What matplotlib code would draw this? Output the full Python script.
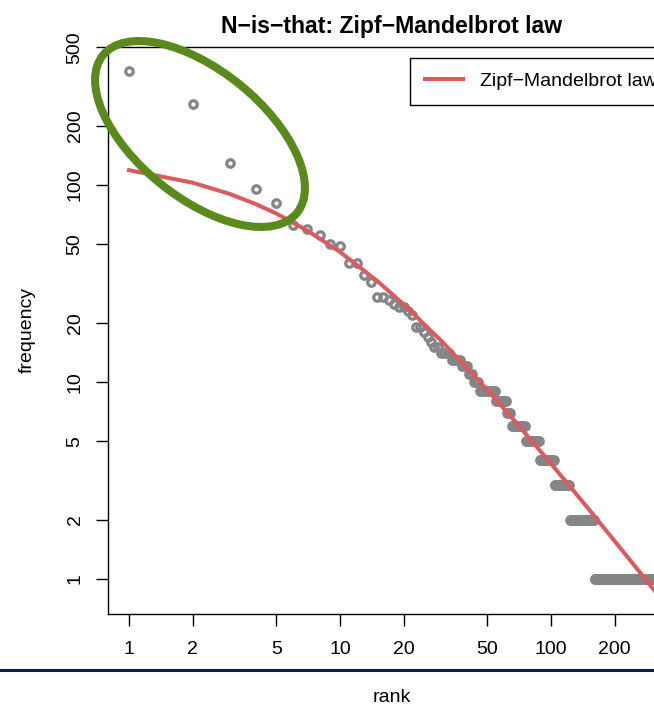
import numpy as np
import matplotlib
matplotlib.use('Agg')
import matplotlib.pyplot as plt
from matplotlib.patches import Ellipse
from matplotlib.lines import Line2D
from matplotlib.transforms import IdentityTransform

plt.rcParams['font.family'] = ['Liberation Sans', 'DejaVu Sans']

# word frequencies, grouped: each level and how many words share it
freq_levels = [379, 259, 129, 95, 81, 63, 60, 56, 50, 49, 40, 35, 32, 27, 26, 25, 24, 23, 22,
               19, 18, 17, 16, 15, 14, 13, 12, 11, 10, 9, 8, 7, 6, 5, 4, 3, 2, 1]
word_counts = [1, 1, 1, 1, 1, 1, 1, 1, 1, 1, 2, 1, 1, 2, 1, 1, 2, 1, 1,
               2, 1, 1, 1, 2, 4, 4, 3, 2, 3, 9, 7, 3, 11, 13, 15, 19, 38, 150]

# fitted Zipf-Mandelbrot curve
fit_rank = [1, 2, 3, 4, 5, 7, 10, 15, 20, 30, 50, 70, 100, 150, 200, 250, 310]
fit_freq = [118.9, 102.8, 90.1, 79.9, 71.6, 58.7, 45.7, 32.6, 24.8, 16.3, 9.09, 6.04,
            3.85, 2.28, 1.56, 1.16, 0.87]

x_ticks = [1, 2, 5, 10, 20, 50, 100, 200]
y_ticks = [1, 2, 5, 10, 20, 50, 100, 200, 500]

frequency = np.repeat(freq_levels, word_counts)
rank = np.arange(1, len(frequency) + 1)

W, H = 654, 706
fig = plt.figure(figsize=(W / 100, H / 100), dpi=100)
ax = fig.add_axes([108 / W, (H - 614) / H, 567 / W, 567 / H])

ax.plot(rank, frequency, 'o', mfc='none', mec='#858585', ms=5.4, mew=2.3, zorder=2)
ax.plot(fit_rank, fit_freq, color='#DA5A5E', lw=2.9, label='Zipf−Mandelbrot law', zorder=3)

ax.set_xscale('log')
ax.set_yscale('log')
ax.set_xlim(0.795, 387)
ax.set_ylim(0.664, 502)
ax.set_xticks(x_ticks)
ax.set_xticklabels([str(t) for t in x_ticks])
ax.set_yticks(y_ticks)
ax.set_yticklabels([str(t) for t in y_ticks])
ax.minorticks_off()
ax.tick_params(direction='out', length=8.6, width=1, labelsize=14, color='black')
ax.tick_params(axis='x', pad=11)
ax.tick_params(axis='y', pad=9)
for lbl in ax.get_yticklabels():
    lbl.set_rotation(90)
    lbl.set_va('center')
for sp in ax.spines.values():
    sp.set_linewidth(1)
    sp.set_color('black')

leg = ax.legend(loc='upper left', bbox_to_anchor=(0.5326, 0.9806), borderaxespad=0,
                fancybox=False, edgecolor='black', fontsize=14, handlelength=2.0,
                handletextpad=0.85, borderpad=0.75, framealpha=1)
leg.get_frame().set_linewidth(1)

# highlight around the head of the distribution
ring = Ellipse((200, H - 134), 250, 127, angle=-39.1, fill=False,
               edgecolor='#5A8A1C', lw=5.8, transform=IdentityTransform(), zorder=5)
fig.add_artist(ring)

fig.add_artist(Line2D([0, 1], [(H - 670) / H] * 2, transform=fig.transFigure,
                      color='#0B2242', lw=2.2))

fig.text(391.5 / W, 1 - 27 / H, 'N−is−that: Zipf−Mandelbrot law', ha='center', va='center',
         fontsize=16.6, fontweight='bold')
fig.text(391.5 / W, 1 - 698 / H, 'rank', ha='center', va='center', fontsize=14)
fig.text(27 / W, 1 - 330 / H, 'frequency', rotation=90, ha='center', va='center', fontsize=14)

fig.savefig('out.png', dpi=100)
